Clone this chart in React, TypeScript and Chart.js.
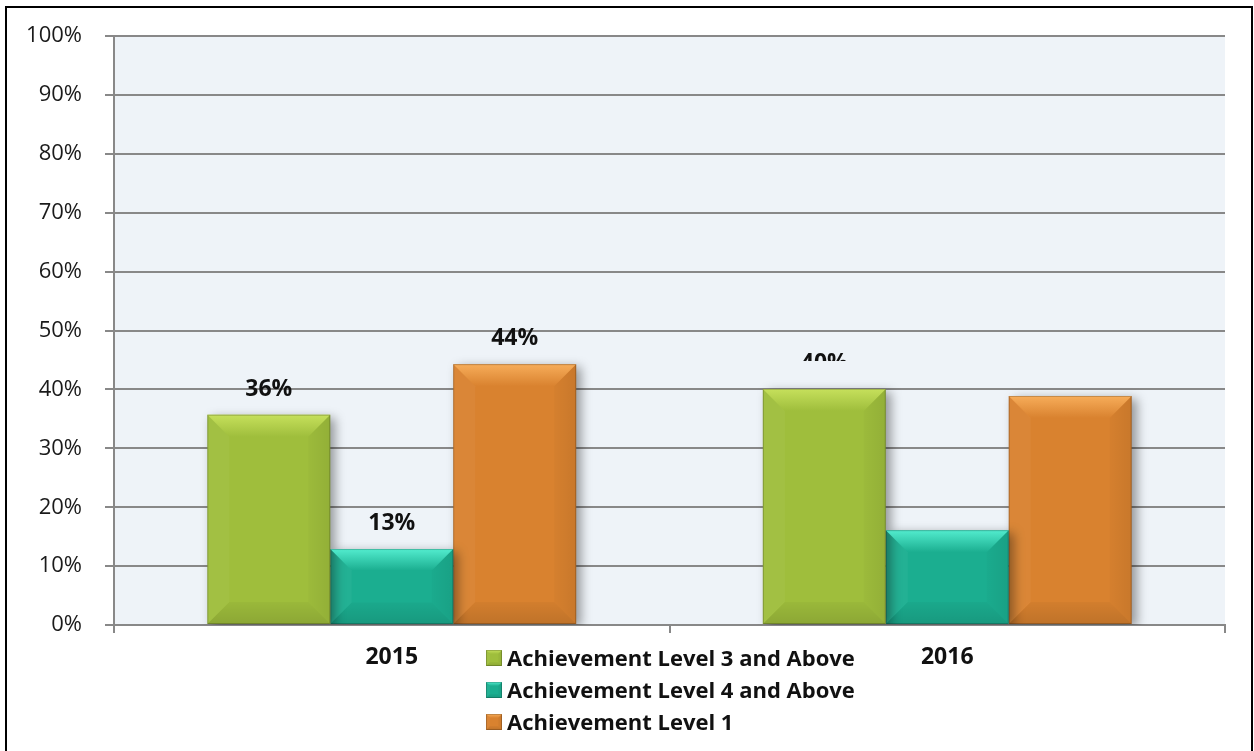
import React, { useEffect, useRef } from 'react';
import { Chart, registerables } from 'chart.js';

Chart.register(...registerables);

// ---------- data ----------
const categories = ['2015', '2016'];
const seriesNames = [
  'Achievement Level 3 and Above',
  'Achievement Level 4 and Above',
  'Achievement Level 1',
];
const level3AndAbove = [35.7, 40.1];
const level4AndAbove = [12.9, 16.1];
const level1 = [44.3, 38.9];
const yTickValues = [0, 10, 20, 30, 40, 50, 60, 70, 80, 90, 100];
// which value labels appear ('full', 'clip' = partly cut off, 'none')
const labelModes = [
  ['full', 'clip'],
  ['full', 'none'],
  ['full', 'none'],
];

// ---------- styles ----------
const palette = [
  { face: '#9fbe3c', light: '#c6e05c', dark: '#7e9a2b' },
  { face: '#1bae90', light: '#52ecce', dark: '#11876f' },
  { face: '#d9822f', light: '#f7ad5a', dark: '#b3641c' },
];
const FONT = "'Open Sans', 'DejaVu Sans', sans-serif";
const GRID = '#888888';

function bevelRect(ctx: CanvasRenderingContext2D, l: number, t: number, r: number, btm: number, b: number, pal: any) {
  // top
  const g = ctx.createLinearGradient(0, t, 0, t + b);
  g.addColorStop(0, pal.light);
  g.addColorStop(1, pal.face);
  ctx.fillStyle = g;
  ctx.beginPath();
  ctx.moveTo(l, t); ctx.lineTo(r, t); ctx.lineTo(r - b, t + b); ctx.lineTo(l + b, t + b); ctx.closePath();
  ctx.fill();
  // bottom
  const gb = ctx.createLinearGradient(0, btm - b, 0, btm);
  gb.addColorStop(0, 'rgba(0,0,0,0.03)');
  gb.addColorStop(1, 'rgba(0,0,0,0.12)');
  ctx.fillStyle = gb;
  ctx.beginPath();
  ctx.moveTo(l, btm); ctx.lineTo(r, btm); ctx.lineTo(r - b, btm - b); ctx.lineTo(l + b, btm - b); ctx.closePath();
  ctx.fill();
  // left
  ctx.fillStyle = 'rgba(255,255,255,0.04)';
  ctx.beginPath();
  ctx.moveTo(l, t); ctx.lineTo(l + b, t + b); ctx.lineTo(l + b, btm - b); ctx.lineTo(l, btm); ctx.closePath();
  ctx.fill();
  // right
  const gr = ctx.createLinearGradient(r - b, 0, r, 0);
  gr.addColorStop(0, 'rgba(0,0,0,0.02)');
  gr.addColorStop(1, 'rgba(0,0,0,0.08)');
  ctx.fillStyle = gr;
  ctx.beginPath();
  ctx.moveTo(r, t); ctx.lineTo(r - b, t + b); ctx.lineTo(r - b, btm - b); ctx.lineTo(r, btm); ctx.closePath();
  ctx.fill();
  // edge
  ctx.strokeStyle = 'rgba(0,0,0,0.2)';
  ctx.lineWidth = 1;
  ctx.strokeRect(l + 0.5, t + 0.5, r - l - 1, btm - t - 1);
}

const decorPlugin = {
  id: 'decor',
  beforeDraw(chart: any) {
    const { ctx, chartArea: a } = chart;
    ctx.save();
    ctx.fillStyle = '#ffffff';
    ctx.fillRect(0, 0, chart.width, chart.height);
    ctx.fillStyle = '#eef3f8';
    ctx.fillRect(a.left, a.top, a.right - a.left, a.bottom - a.top);
    ctx.restore();
  },
  beforeDatasetsDraw(chart: any) {
    const ctx = chart.ctx;
    ctx.save();
    ctx.shadowColor = 'rgba(0,0,0,0.38)';
    ctx.shadowBlur = 10;
    ctx.shadowOffsetX = 5;
    ctx.shadowOffsetY = 3;
  },
  afterDatasetsDraw(chart: any) {
    const ctx = chart.ctx;
    ctx.restore();
    ctx.save();
    chart.data.datasets.forEach((ds: any, i: number) => {
      const meta = chart.getDatasetMeta(i);
      meta.data.forEach((el: any) => {
        const p = el.getProps(['x', 'y', 'base', 'width'], true);
        const l = p.x - p.width / 2, r = p.x + p.width / 2;
        const t = Math.min(p.y, p.base), btm = Math.max(p.y, p.base);
        const b = Math.min(22, (btm - t) / 3.5, p.width / 5);
        bevelRect(ctx, l, t, r, btm, b, palette[i]);
      });
    });
    // value labels
    ctx.font = `bold 23px ${FONT}`;
    ctx.fillStyle = '#111111';
    ctx.textAlign = 'center';
    ctx.textBaseline = 'alphabetic';
    chart.data.datasets.forEach((ds: any, i: number) => {
      const meta = chart.getDatasetMeta(i);
      meta.data.forEach((el: any, j: number) => {
        const mode = labelModes[i][j];
        if (mode === 'none') return;
        const txt = Math.round(ds.data[j]) + '%';
        const base = el.y - 19;
        if (mode === 'clip') {
          ctx.save();
          ctx.beginPath();
          ctx.rect(el.x - 60, base - 40, 120, 31);
          ctx.clip();
          ctx.fillText(txt, el.x, base);
          ctx.restore();
        } else {
          ctx.fillText(txt, el.x, base);
        }
      });
    });
    ctx.restore();
  },
  afterDraw(chart: any) {
    const ctx = chart.ctx;
    ctx.save();
    // legend
    ctx.font = `bold 22px ${FONT}`;
    ctx.textAlign = 'left';
    ctx.textBaseline = 'alphabetic';
    chart.data.datasets.forEach((ds: any, i: number) => {
      const baseY = 666 + i * 32;
      const bx = 486, by = baseY - 16, s = 16;
      ctx.fillStyle = palette[i].face;
      ctx.fillRect(bx, by, s, s);
      bevelRect(ctx, bx, by, bx + s, by + s, 4, palette[i]);
      ctx.fillStyle = '#111111';
      ctx.fillText(ds.label, 507, baseY);
    });
    // outer frame
    ctx.strokeStyle = '#000000';
    ctx.lineWidth = 2;
    ctx.strokeRect(6, 7, 1246, 760);
    ctx.restore();
  },
};

export default function App() {
  const ref = useRef<HTMLCanvasElement | null>(null);

  useEffect(() => {
    document.body.style.margin = '0';
    const series = [level3AndAbove, level4AndAbove, level1];
    const chart = new Chart(ref.current as HTMLCanvasElement, {
      type: 'bar',
      data: {
        labels: categories,
        datasets: series.map((d, i) => ({
          label: seriesNames[i],
          data: d,
          backgroundColor: palette[i].face,
          borderWidth: 0,
          barPercentage: 1,
          categoryPercentage: 0.664,
        })),
      },
      options: {
        responsive: false,
        animation: false,
        maintainAspectRatio: false,
        layout: { padding: { top: 36, right: 29, left: 0, bottom: 0 } },
        plugins: {
          legend: { display: false },
          tooltip: { enabled: false },
          title: { display: false },
        },
        scales: {
          x: {
            grid: {
              display: true,
              drawOnChartArea: false,
              drawTicks: true,
              tickLength: 8,
              color: GRID,
              lineWidth: 2,
              offset: true,
            },
            border: { display: true, color: GRID, width: 2 },
            ticks: {
              font: { family: FONT, size: 23, weight: 'bold' },
              color: '#111111',
              padding: 11,
            },
            afterFit: (s: any) => { s.height = 126; },
          },
          y: {
            min: 0,
            max: 100,
            afterBuildTicks: (s: any) => { s.ticks = yTickValues.map((v) => ({ value: v })); },
            grid: { color: GRID, lineWidth: 2, tickLength: 9, drawTicks: true },
            border: { display: true, color: GRID, width: 2 },
            ticks: {
              font: { family: FONT, size: 22 },
              color: '#1a1a1a',
              padding: 23,
              callback: (v: any) => v + '%',
            },
            afterFit: (s: any) => { s.width = 114; },
          },
        },
      },
      plugins: [decorPlugin],
    } as any);
    return () => chart.destroy();
  }, []);

  return (
    <div style={{ width: 1254, height: 751, position: 'relative' }}>
      <canvas ref={ref} width={1254} height={751} style={{ display: 'block' }} />
    </div>
  );
}
